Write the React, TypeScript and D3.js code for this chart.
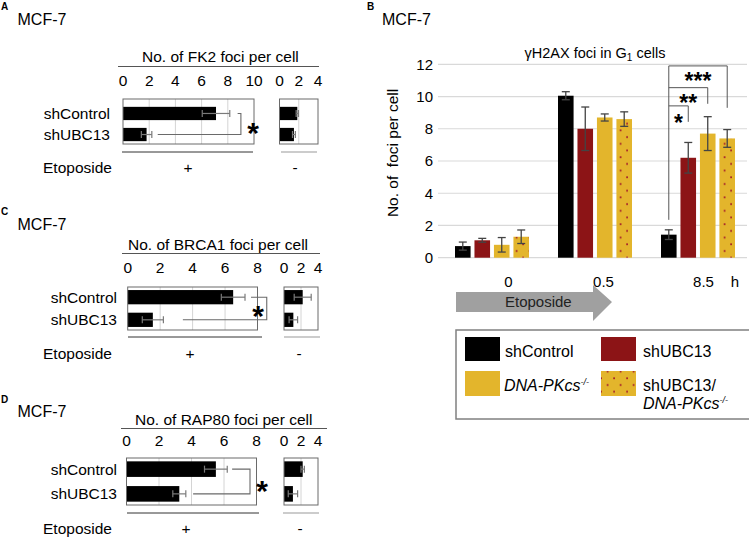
import React from "react";
import * as d3 from "d3";

const FONT = "'Liberation Sans', Arial, Helvetica, sans-serif";

// ---------- Panels A, C, D data ----------
const cellLines = ["shControl", "shUBC13"];

const fk2Etop = [7.1, 1.8];
const fk2EtopErr = [1.05, 0.4];
const fk2Mock = [1.85, 1.5];
const fk2MockErr = [0.12, 0.15];

const brca1Etop = [6.5, 1.55];
const brca1EtopErr = [0.73, 0.65];
const brca1Mock = [2.2, 1.1];
const brca1MockErr = [1.0, 0.5];

const rap80Etop = [5.5, 3.25];
const rap80EtopErr = [0.7, 0.4];
const rap80Mock = [2.2, 1.05];
const rap80MockErr = [0.2, 0.55];

const ticksA = [0, 2, 4, 6, 8, 10];
const ticksCD = [0, 2, 4, 6, 8];
const ticksMock = [0, 2, 4];

// ---------- Panel B data ----------
const timePoints = ["0", "0.5", "8.5"];
const seriesNames = ["shControl", "shUBC13", "DNA-PKcs", "shUBC13/DNA-PKcs"];
const shControlVals = [0.72, 10.05, 1.43];
const shControlErr = [0.25, 0.25, 0.3];
const shUBC13Vals = [1.08, 8.0, 6.2];
const shUBC13Err = [0.12, 1.35, 0.95];
const dnaPKVals = [0.8, 8.7, 7.7];
const dnaPKErr = [0.45, 0.22, 1.05];
const doubleVals = [1.3, 8.6, 7.4];
const doubleErr = [0.42, 0.45, 0.55];
const yTicksB = [0, 2, 4, 6, 8, 10, 12];

const RED = "#8c1416";
const YELLOW = "#e3b52c";

type PanelCfg = {
  letter: string;
  top: number;
  letterY: number;
  mcfY: number;
  title: string;
  titleX: number;
  titleY: number;
  ulX: [number, number];
  ulY: number;
  tickY: number;
  max: number;
  ticks: number[];
  mainRange: [number, number];
  mockRange: [number, number];
  boxBottom: number;
  bandTop: number;
  etop: number[];
  etopErr: number[];
  mock: number[];
  mockErr: number[];
  labelX: number;
  br: { start: number; x: number; end: number };
  star: [number, number];
  bottomY: number;
  mainLine: [number, number];
  mockLine: [number, number];
  etoY: number;
  plusX: number;
  minusX: number;
};

const panels: PanelCfg[] = [
  {
    letter: "A", top: 99, letterY: 10, mcfY: 25,
    title: "No. of FK2 foci per cell", titleX: 142, titleY: 62, ulX: [118, 319], ulY: 66.5,
    tickY: 80, max: 10, ticks: ticksA, mainRange: [123, 254], mockRange: [279.5, 318],
    boxBottom: 144, bandTop: 104,
    etop: fk2Etop, etopErr: fk2EtopErr, mock: fk2Mock, mockErr: fk2MockErr,
    labelX: 110, br: { start: 8.75, x: 9.0, end: 2.65 }, star: [253, 127],
    bottomY: 152, mainLine: [122, 253], mockLine: [281, 317], etoY: 167, plusX: 188, minusX: 295,
  },
  {
    letter: "C", top: 287, letterY: 215, mcfY: 230,
    title: "No. of BRCA1 foci per cell", titleX: 128, titleY: 249.5, ulX: [122, 320], ulY: 253.5,
    tickY: 267, max: 8, ticks: ticksCD, mainRange: [127.7, 257.5], mockRange: [284, 318],
    boxBottom: 330, bandTop: 287,
    etop: brca1Etop, etopErr: brca1EtopErr, mock: brca1Mock, mockErr: brca1MockErr,
    labelX: 117, br: { start: 7.6, x: 8.57, end: 3.4 }, star: [258, 310],
    bottomY: 337, mainLine: [128, 262], mockLine: [284, 320], etoY: 353, plusX: 190, minusX: 299,
  },
  {
    letter: "D", top: 458, letterY: 403, mcfY: 417,
    title: "No. of RAP80 foci per cell", titleX: 135, titleY: 424.5, ulX: [121, 327], ulY: 428.5,
    tickY: 440, max: 8, ticks: ticksCD, mainRange: [126.5, 256.5], mockRange: [284, 318],
    boxBottom: 505, bandTop: 458,
    etop: rap80Etop, etopErr: rap80EtopErr, mock: rap80Mock, mockErr: rap80MockErr,
    labelX: 117, br: { start: 6.5, x: 7.6, end: 4.1 }, star: [262, 485],
    bottomY: 513, mainLine: [127, 259], mockLine: [283, 319], etoY: 528, plusX: 186, minusX: 300,
  },
];

function HBarPanel({ p }: { p: PanelCfg }) {
  const x = d3.scaleLinear().domain([0, p.max]).range(p.mainRange);
  const xm = d3.scaleLinear().domain([0, 4]).range(p.mockRange);
  const y = d3
    .scaleBand<string>()
    .domain(cellLines)
    .range([p.bandTop, p.boxBottom])
    .paddingInner(0.3)
    .paddingOuter(0.1);
  const bh = y.bandwidth() * 0.9;
  const cy = (c: string) => (y(c) as number) + y.bandwidth() / 2;
  const fs = 15.5;

  const renderBars = (
    sc: d3.ScaleLinear<number, number>,
    vals: number[],
    errs: number[],
    key: string
  ) =>
    cellLines.map((c, i) => {
      const yc = cy(c);
      const lo = sc(vals[i] - errs[i]);
      const hi = sc(vals[i] + errs[i]);
      return (
        <g key={key + c}>
          <rect x={sc(0)} y={yc - bh / 2} width={sc(vals[i]) - sc(0)} height={bh} fill="#000" />
          <line x1={lo} x2={hi} y1={yc} y2={yc} stroke="#7a7a7a" strokeWidth={1.2} />
          <line x1={lo} x2={lo} y1={yc - 3.5} y2={yc + 3.5} stroke="#7a7a7a" strokeWidth={1.2} />
          <line x1={hi} x2={hi} y1={yc - 3.5} y2={yc + 3.5} stroke="#7a7a7a" strokeWidth={1.2} />
        </g>
      );
    });

  const y0 = cy(cellLines[0]);
  const y1 = cy(cellLines[1]);

  return (
    <g fontFamily={FONT}>
      <text x={1} y={p.letterY} fontSize={10} fontWeight="bold">{p.letter}</text>
      <text x={17.5} y={p.mcfY} fontSize={16}>MCF-7</text>
      <text x={p.titleX} y={p.titleY} fontSize={fs}>{p.title}</text>
      <line x1={p.ulX[0]} x2={p.ulX[1]} y1={p.ulY} y2={p.ulY} stroke="#555" strokeWidth={1} />
      {p.ticks.map((t) => (
        <text key={"t" + t} x={x(t)} y={p.tickY} dy="0.36em" fontSize={fs} textAnchor="middle">{t}</text>
      ))}
      {ticksMock.map((t) => (
        <text key={"m" + t} x={xm(t)} y={p.tickY} dy="0.36em" fontSize={fs} textAnchor="middle">{t}</text>
      ))}
      {p.ticks.slice(1, -1).map((t) => (
        <line key={"g" + t} x1={x(t)} x2={x(t)} y1={p.top} y2={p.boxBottom} stroke="#d4d4d4" strokeWidth={1} />
      ))}
      {ticksMock.slice(1, -1).map((t) => (
        <line key={"gm" + t} x1={xm(t)} x2={xm(t)} y1={p.top} y2={p.boxBottom} stroke="#d4d4d4" strokeWidth={1} />
      ))}
      {renderBars(x, p.etop, p.etopErr, "e")}
      {renderBars(xm, p.mock, p.mockErr, "m")}
      <rect x={x(0)} y={p.top} width={x(p.max) - x(0)} height={p.boxBottom - p.top} fill="none" stroke="#6a6a6a" strokeWidth={1} />
      <rect x={xm(0)} y={p.top} width={xm(4) - xm(0)} height={p.boxBottom - p.top} fill="none" stroke="#6a6a6a" strokeWidth={1} />
      {cellLines.map((c) => (
        <text key={"l" + c} x={p.labelX} y={cy(c)} dy="0.36em" fontSize={fs} textAnchor="end">{c}</text>
      ))}
      <path
        d={`M${x(p.br.start)},${y0}H${x(p.br.x)}V${y1}H${x(p.br.end)}`}
        fill="none"
        stroke="#6a6a6a"
        strokeWidth={1.1}
      />
      <text x={p.star[0]} y={p.star[1] + 16} fontSize={30} fontWeight="bold" textAnchor="middle">*</text>
      <line x1={p.mainLine[0]} x2={p.mainLine[1]} y1={p.bottomY} y2={p.bottomY} stroke="#333" strokeWidth={1} />
      <line x1={p.mockLine[0]} x2={p.mockLine[1]} y1={p.bottomY} y2={p.bottomY} stroke="#999" strokeWidth={1} />
      <text x={43} y={p.etoY} dy="0.36em" fontSize={fs}>Etoposide</text>
      <text x={p.plusX} y={p.etoY} dy="0.36em" fontSize={fs} textAnchor="middle">+</text>
      <text x={p.minusX} y={p.etoY} dy="0.36em" fontSize={fs} textAnchor="middle">-</text>
    </g>
  );
}

function PanelB() {
  const x = d3.scaleBand<string>().domain(timePoints).range([438, 747]);
  const sub = d3.scaleBand<string>().domain(seriesNames).range([17, 91]).paddingInner(0.2);
  const y = d3.scaleLinear().domain([0, 12]).range([257.7, 64.3]);
  const bw = sub.bandwidth();
  const series = [
    { name: seriesNames[0], vals: shControlVals, errs: shControlErr, fill: "#000" },
    { name: seriesNames[1], vals: shUBC13Vals, errs: shUBC13Err, fill: RED },
    { name: seriesNames[2], vals: dnaPKVals, errs: dnaPKErr, fill: YELLOW },
    { name: seriesNames[3], vals: doubleVals, errs: doubleErr, fill: "url(#dots)" },
  ];
  const bx = (t: string, s: string) => (x(t) as number) + (sub(s) as number);
  const bc = (t: string, s: string) => bx(t, s) + bw / 2;
  const fs = 15;

  const tLast = timePoints[2];
  const ctrlX = bc(tLast, seriesNames[0]);
  const sig = [
    { s: seriesNames[1], level: 9.42, drop: 8.43, starY: 8.72, label: "*" },
    { s: seriesNames[2], level: 10.55, drop: 9.55, starY: 9.9, label: "**" },
    { s: seriesNames[3], level: 11.9, drop: 9.3, starY: 11.27, label: "***" },
  ];

  const arrowX0 = (x(timePoints[0]) as number) + 18;
  const arrowHead = (x(timePoints[1]) as number) + 52;
  const arrowTip = (x(timePoints[1]) as number) + 71;
  const ay = 302;
  const starFs = 23;

  return (
    <g fontFamily={FONT}>
      <defs>
        <pattern id="dots" patternUnits="userSpaceOnUse" width={13} height={13.4}>
          <rect width={13} height={13.4} fill={YELLOW} />
          <rect x={2.2} y={2.2} width={1.8} height={1.8} fill="#a8262a" />
          <rect x={8.7} y={8.9} width={1.8} height={1.8} fill="#a8262a" />
        </pattern>
      </defs>
      <text x={367} y={10} fontSize={10} fontWeight="bold">B</text>
      <text x={382} y={25} fontSize={16}>MCF-7</text>
      <text x={595} y={58} fontSize={14.5} textAnchor="middle">
        γH2AX foci in G<tspan dy={3} fontSize={10}>1</tspan><tspan dy={-3}> cells</tspan>
      </text>
      {yTicksB.map((t) => (
        <g key={"y" + t}>
          <line x1={438} x2={747} y1={y(t)} y2={y(t)} stroke="#d9d9d9" strokeWidth={1.2} />
          <text x={433} y={y(t)} dy="0.36em" fontSize={fs} textAnchor="end">{t}</text>
        </g>
      ))}
      <text
        transform={`translate(398,${y(6.5)}) rotate(-90)`}
        fontSize={15.5}
        textAnchor="middle"
        style={{ whiteSpace: "pre" }}
      >
        {"No. of  foci per cell"}
      </text>
      {series.map((s) =>
        timePoints.map((t, i) => {
          const x0 = bx(t, s.name);
          const xc = x0 + bw / 2;
          const lo = y(s.vals[i] - s.errs[i]);
          const hi = y(s.vals[i] + s.errs[i]);
          return (
            <g key={s.name + t}>
              <rect x={x0} y={y(s.vals[i])} width={bw} height={y(0) - y(s.vals[i])} fill={s.fill} />
              <line x1={xc} x2={xc} y1={lo} y2={hi} stroke="#444" strokeWidth={1.3} />
              <line x1={xc - 4} x2={xc + 4} y1={lo} y2={lo} stroke="#444" strokeWidth={1.3} />
              <line x1={xc - 4} x2={xc + 4} y1={hi} y2={hi} stroke="#444" strokeWidth={1.3} />
            </g>
          );
        })
      )}
      <line
        x1={ctrlX}
        x2={ctrlX}
        y1={y(shControlVals[2] + shControlErr[2]) - 10}
        y2={y(11.9)}
        stroke="#555"
        strokeWidth={1}
      />
      {sig.map((g) => {
        const tx = bc(tLast, g.s);
        return (
          <g key={"sig" + g.label}>
            <path d={`M${ctrlX},${y(g.level)}H${tx}V${y(g.drop)}`} fill="none" stroke="#555" strokeWidth={1} />
            <text
              x={(ctrlX + tx) / 2}
              y={y(g.starY) + starFs * 0.58}
              fontSize={starFs}
              fontWeight="bold"
              textAnchor="middle"
            >
              {g.label}
            </text>
          </g>
        );
      })}
      {timePoints.map((t, i) => (
        <text
          key={"tl" + t}
          x={(x(t) as number) + x.bandwidth() / 2 + [19, 11, 8][i]}
          y={282}
          dy="0.36em"
          fontSize={fs}
          textAnchor="middle"
        >
          {t}
        </text>
      ))}
      <text x={735} y={282} dy="0.36em" fontSize={fs} textAnchor="middle">h</text>
      <path
        d={`M${arrowX0},${ay - 10}H${arrowHead}V${ay - 17}L${arrowTip},${ay}L${arrowHead},${ay + 19}V${ay + 10}H${arrowX0}Z`}
        fill="#a0a0a0"
      />
      <text x={505} y={ay} dy="0.36em" fontSize={fs} fill="#222">Etoposide</text>
      <rect x={456} y={330} width={300} height={89} fill="none" stroke="#808080" strokeWidth={1.5} />
      <rect x={465} y={337} width={35} height={24} fill="#000" />
      <text x={505} y={351} dy="0.36em" fontSize={16}>shControl</text>
      <rect x={601} y={337} width={35} height={24} fill={RED} />
      <text x={643} y={351} dy="0.36em" fontSize={16}>shUBC13</text>
      <rect x={465} y={371} width={35} height={25} fill={YELLOW} />
      <text x={504} y={385} dy="0.36em" fontSize={16} fontStyle="italic">
        DNA-PKcs<tspan dy={-6} fontSize={9}>-/-</tspan>
      </text>
      <rect x={601} y={371} width={35} height={25} fill="url(#dots)" />
      <text x={643} y={385} dy="0.36em" fontSize={16}>shUBC13/</text>
      <text x={643} y={403} dy="0.36em" fontSize={16} fontStyle="italic">
        DNA-PKcs<tspan dy={-6} fontSize={9}>-/-</tspan>
      </text>
    </g>
  );
}

export default function App() {
  return (
    <svg
      width={749}
      height={537}
      viewBox="0 0 749 537"
      style={{ position: "absolute", left: 0, top: 0, background: "#fff" }}
    >
      <rect width={749} height={537} fill="#fff" />
      {panels.map((p) => (
        <HBarPanel key={p.letter} p={p} />
      ))}
      <PanelB />
    </svg>
  );
}
